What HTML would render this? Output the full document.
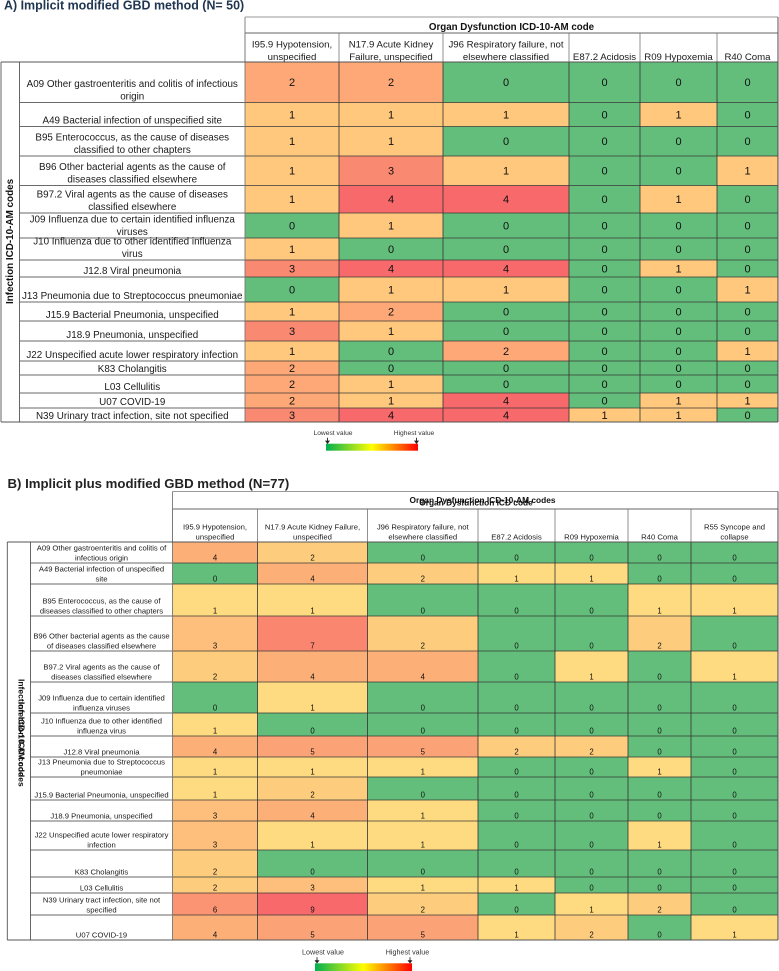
<!DOCTYPE html>
<html lang="en">
<head>
<meta charset="utf-8">
<title>Organ dysfunction heatmaps</title>
<style>
html,body{margin:0;padding:0;background:#fff;}
body{width:779px;height:971px;overflow:hidden;}
svg{display:block;font-family:"Liberation Sans",Arial,sans-serif;filter:blur(0.3px);}
</style>
</head>
<body>
<svg id="chart" xmlns="http://www.w3.org/2000/svg" width="779" height="971" viewBox="0 0 779 971">
  <defs>
    <linearGradient id="legend-gradient" x1="0" x2="1" y1="0" y2="0">
      <stop offset="0" stop-color="#00B050"/>
      <stop offset="0.5" stop-color="#FFFF00"/>
      <stop offset="1" stop-color="#FF0000"/>
    </linearGradient>
  </defs>
  <rect width="779" height="971" fill="#fff"/>
  <text x="4" y="9.5" font-size="12.45" font-weight="bold" fill="#1F3550">A) Implicit modified GBD method (N= 50)</text>
  <text x="7.5" y="488" font-size="13.2" font-weight="bold" fill="#222">B) Implicit plus modified GBD method (N=77)</text>
</svg>
<script>
// ---------- Panel A data ----------
const categoriesA = [
  "A09 Other gastroenteritis and colitis of infectious\norigin",
  "A49 Bacterial infection of unspecified site",
  "B95 Enterococcus, as the cause of diseases\nclassified to other chapters",
  "B96 Other bacterial agents as the cause of\ndiseases classified elsewhere",
  "B97.2 Viral agents as the cause of diseases\nclassified elsewhere",
  "J09 Influenza due to certain identified influenza\nviruses",
  "J10 Influenza due to other identified influenza\nvirus",
  "J12.8 Viral pneumonia",
  "J13 Pneumonia due to Streptococcus pneumoniae",
  "J15.9 Bacterial Pneumonia, unspecified",
  "J18.9 Pneumonia, unspecified",
  "J22 Unspecified acute lower respiratory infection",
  "K83 Cholangitis",
  "L03 Cellulitis",
  "U07 COVID-19",
  "N39 Urinary tract infection, site not specified"
];
const columnsA = [
  "I95.9 Hypotension,\nunspecified",
  "N17.9 Acute Kidney\nFailure, unspecified",
  "J96 Respiratory failure, not\nelsewhere classified",
  "E87.2 Acidosis",
  "R09 Hypoxemia",
  "R40 Coma"
];
const valuesA = [
  [2,2,0,0,0,0],
  [1,1,1,0,1,0],
  [1,1,0,0,0,0],
  [1,3,1,0,0,1],
  [1,4,4,0,1,0],
  [0,1,0,0,0,0],
  [1,0,0,0,0,0],
  [3,4,4,0,1,0],
  [0,1,1,0,0,1],
  [1,2,0,0,0,0],
  [3,1,0,0,0,0],
  [1,0,2,0,0,1],
  [2,0,0,0,0,0],
  [2,1,0,0,0,0],
  [2,1,4,0,1,1],
  [3,4,4,1,1,0]
];

// ---------- Panel B data ----------
const categoriesB = [
  "A09 Other gastroenteritis and colitis of\ninfectious origin",
  "A49 Bacterial infection of unspecified\nsite",
  "B95 Enterococcus, as the cause of\ndiseases classified to other chapters",
  "B96 Other bacterial agents as the cause\nof diseases classified elsewhere",
  "B97.2 Viral agents as the cause of\ndiseases classified elsewhere",
  "J09 Influenza due to certain identified\ninfluenza viruses",
  "J10 Influenza due to other identified\ninfluenza virus",
  "J12.8 Viral pneumonia",
  "J13 Pneumonia due to Streptococcus\npneumoniae",
  "J15.9 Bacterial Pneumonia, unspecified",
  "J18.9 Pneumonia, unspecified",
  "J22 Unspecified acute lower respiratory\ninfection",
  "K83 Cholangitis",
  "L03 Cellulitis",
  "N39 Urinary tract infection, site not\nspecified",
  "U07 COVID-19"
];
const columnsB = [
  "I95.9 Hypotension,\nunspecified",
  "N17.9 Acute Kidney Failure,\nunspecified",
  "J96 Respiratory failure, not\nelsewhere classified",
  "E87.2 Acidosis",
  "R09 Hypoxemia",
  "R40 Coma",
  "R55 Syncope and\ncollapse"
];
const valuesB = [
  [4,2,0,0,0,0,0],
  [0,4,2,1,1,0,0],
  [1,1,0,0,0,1,1],
  [3,7,2,0,0,2,0],
  [2,4,4,0,1,0,1],
  [0,1,0,0,0,0,0],
  [1,0,0,0,0,0,0],
  [4,5,5,2,2,0,0],
  [1,1,1,0,0,1,0],
  [1,2,0,0,0,0,0],
  [3,4,1,0,0,0,0],
  [3,1,1,0,0,1,0],
  [2,0,0,0,0,0,0],
  [2,3,1,1,0,0,0],
  [6,9,2,0,1,2,0],
  [4,5,5,1,2,0,1]
];

const legendTickLabels = ["Lowest value", "Highest value"];

// ---------- Table geometry (layout only, not data) ----------
const panelA = {
  prefix: "panel-a",
  categories: categoriesA, columns: columnsA, values: valuesA,
  outerLeft: 1, labelLeft: 19.5, top: 17, subTop: 33, rowsTop: 62,
  colEdges: [245,339,443,569,640,717,778],
  rowEdges: [62,102.5,126.5,156,185.5,213,238,260,277,302,321,341,361,375,393,408,422],
  labelSize: 9.85, labelLead: 12.5, labelPad: 3,
  headSize: 9.65, headLead: 12.3, headBase: 60,
  numSize: 11, numMiddle: true,
  low: [255,200,124]
};
const panelB = {
  prefix: "panel-b",
  categories: categoriesB, columns: columnsB, values: valuesB,
  outerLeft: 7.3, labelLeft: 30.5, top: 491.5, subTop: 509, rowsTop: 542,
  colEdges: [172.5,257.5,367.5,478,555,628,691,778],
  rowEdges: [542,563,584,616,651,682,713,736,757,777,800,821,850,877,893,915,940],
  labelSize: 7.65, labelLead: 10, labelPad: 2.5,
  headSize: 7.7, headLead: 10, headBase: 539.5,
  numSize: 7.8, numMiddle: false,
  low: [254,219,128]
};

const svgNS = "http://www.w3.org/2000/svg";
const root = document.getElementById("chart");
const ZERO = [99,190,123];
const HIGH = [248,105,107];

function make(tag, props, parent) {
  const el = document.createElementNS(svgNS, tag);
  for (const k in props) el.setAttribute(k, props[k]);
  parent.appendChild(el);
  return el;
}

// colour scale: zero is green, then low -> high linear over 1..max
function colorScale(v, max, low) {
  if (v <= 0) return "rgb(" + ZERO.join(",") + ")";
  const t = max > 1 ? (v - 1) / (max - 1) : 1;
  const c = low.map((l, i) => Math.round(l + (HIGH[i] - l) * t));
  return "rgb(" + c.join(",") + ")";
}

function xBand(p, i) { return { x0: p.colEdges[i], x1: p.colEdges[i + 1] }; }
function yBand(p, i) { return { y0: p.rowEdges[i], y1: p.rowEdges[i + 1] }; }

function line(parent, x1, y1, x2, y2, stroke, w) {
  return make("line", { x1, y1, x2, y2, stroke, "stroke-width": w }, parent);
}

function drawPanel(p) {
  const g = make("g", {}, root);
  
  
  const max = Math.max(...p.values.flat());
  const right = p.colEdges[p.colEdges.length - 1];
  const bottom = p.rowEdges[p.rowEdges.length - 1];

  // heat cells
  p.values.forEach((row, r) => {
    const yb = yBand(p, r);
    row.forEach((v, c) => {
      const xb = xBand(p, c);
      const cell = make("rect", { x: xb.x0, y: yb.y0, width: xb.x1 - xb.x0, height: yb.y1 - yb.y0, fill: colorScale(v, max, p.low) }, g);
      
      
    });
  });

  // grid lines
  const grid = make("g", {}, g);
  
  
  p.rowEdges.forEach((y, i) => {
    if (i === 0 || i === p.rowEdges.length - 1) return;
    line(grid, p.labelLeft, y, p.colEdges[0], y, "#6a6a6a", 0.9);
    line(grid, p.colEdges[0], y, right, y, "#3a3a3a", 0.8);
  });
  p.colEdges.forEach((x, i) => {
    line(grid, x, p.subTop, x, p.rowsTop, "#777", 0.8);
    if (i > 0) line(grid, x, p.rowsTop, x, bottom, "#333", 0.8);
  });
  line(grid, p.colEdges[0], p.top, p.colEdges[0], bottom, "#777", 0.9);
  line(grid, p.outerLeft, p.rowsTop, right, p.rowsTop, "#555", 0.9);
  line(grid, p.outerLeft, bottom, right, bottom, "#555", 1);
  line(grid, p.colEdges[0], p.subTop, right, p.subTop, "#666", 0.9);
  line(grid, p.colEdges[0], p.top, right, p.top, "#999", 1);
  line(grid, p.outerLeft, p.rowsTop, p.outerLeft, bottom, "#555", 0.9);
  line(grid, p.labelLeft, p.rowsTop, p.labelLeft, bottom, "#555", 0.9);
  line(grid, right, p.top, right, bottom, "#444", 0.9);

  // cell values
  p.values.forEach((row, r) => {
    const yb = yBand(p, r);
    row.forEach((v, c) => {
      const xb = xBand(p, c);
      const y = p.numMiddle ? (yb.y0 + yb.y1) / 2 + p.numSize * 0.36 : yb.y1 - p.labelPad;
      const t = make("text", { x: (xb.x0 + xb.x1) / 2, y, "text-anchor": "middle", "font-size": p.numSize, fill: "#111" }, g);
      t.textContent = v;
      
      
    });
  });

  // row labels (bottom aligned in the row)
  const lx = (p.labelLeft + p.colEdges[0]) / 2;
  p.categories.forEach((label, r) => {
    const lines = label.split("\n");
    const yb = yBand(p, r);
    lines.forEach((s, i) => {
      const y = yb.y1 - p.labelPad - (lines.length - 1 - i) * p.labelLead;
      const t = make("text", { x: lx, y, "text-anchor": "middle", "font-size": p.labelSize, fill: "#1a1a1a" }, g);
      t.textContent = s;
      
      
    });
  });

  // column headers (bottom aligned)
  p.columns.forEach((label, c) => {
    const lines = label.split("\n");
    const xb = xBand(p, c);
    lines.forEach((s, i) => {
      const y = p.headBase - (lines.length - 1 - i) * p.headLead;
      const t = make("text", { x: (xb.x0 + xb.x1) / 2, y, "text-anchor": "middle", "font-size": p.headSize, fill: "#1a1a1a" }, g);
      t.textContent = s;
      
      
    });
  });
}

function headingText(str, x, y, size) {
  const t = make("text", { x, y, "text-anchor": "middle", "font-size": size, "font-weight": "bold", fill: "#111" }, root);
  t.textContent = str;
  return t;
}

function verticalText(str, x, y, size, rot) {
  const t = make("text", { transform: "translate(" + x + "," + y + ") rotate(" + rot + ")", "font-size": size, "font-weight": "bold", fill: "#111" }, root);
  t.textContent = str;
  return t;
}

function drawLegend(prefix, x, y, w, h, labelY, size, leftLabelX, rightLabelX, arrowInset) {
  const g = make("g", {}, root);
  
  
  const bar = make("rect", { x, y, width: w, height: h, fill: "url(#legend-gradient)" }, g);
  
  
  legendTickLabels.forEach((s, i) => {
    const t = make("text", { x: i === 0 ? leftLabelX : rightLabelX, y: labelY, "text-anchor": "middle", "font-size": size, fill: "#333" }, g);
    t.textContent = s;
    
    
    const ax = i === 0 ? x + arrowInset : x + w - arrowInset;
    const a = make("path", { d: "M" + ax + " " + (y - 6) + "V" + (y - 2) + "M" + (ax - 1.6) + " " + (y - 2.6) + "L" + ax + " " + (y - 0.5) + "L" + (ax + 1.6) + " " + (y - 2.6) + "Z", stroke: "#222", "stroke-width": 0.9, fill: "#222" }, g);
    
    
  });
}

drawPanel(panelA);
drawPanel(panelB);

const headA = headingText("Organ Dysfunction ICD-10-AM code", 511.5, 30, 9.75);


const headB1 = headingText("Organ Dysfunction ICD-10-AM codes", 482.5, 503, 8.35);


const headB2 = headingText("Organ Dysfunction ICD code", 476, 505.5, 8.35);



const vertA = verticalText("Infection ICD-10-AM codes", 13, 304, 9.9, -90);


const vertB1 = verticalText("Infection ICD-10-AM codes", 18.5, 679, 8.5, 90);


const vertB2 = verticalText("Infection ICD code", 18.5, 702, 8.5, 90);



drawLegend("panel-a", 326, 443.7, 92, 7, 435, 6.7, 333, 414, 1.5);
drawLegend("panel-b", 315, 963.3, 97, 7.7, 954.5, 7.2, 323, 407.5, 2);
</script>
</body>
</html>
